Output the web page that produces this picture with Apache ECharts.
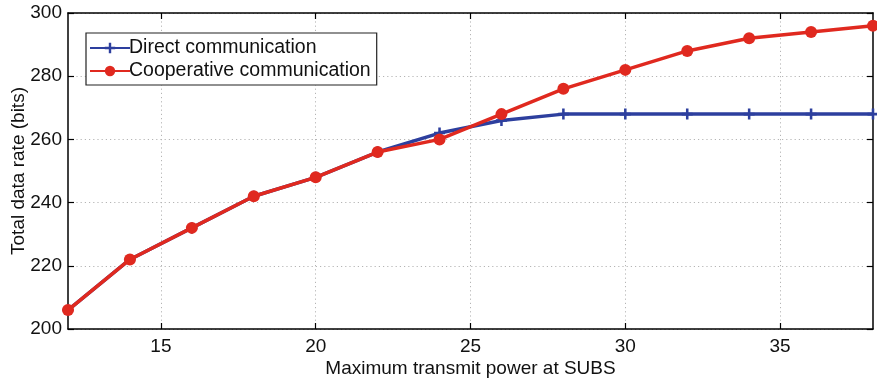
<!DOCTYPE html>
<html><head><meta charset="utf-8">
<script src="https://cdn.jsdelivr.net/npm/echarts@6/dist/echarts.min.js"></script>
<style>html,body{margin:0;padding:0;background:#fff}#c{width:877px;height:382px}</style>
</head><body><div id="c"></div>
<script>
const xValues = [12,14,16,18,20,22,24,26,28,30,32,34,36,38];
const directRate = [206,222,232,242,248,256,262,266,268,268,268,268,268,268];
const coopRate = [206,222,232,242,248,256,260,268,276,282,288,292,294,296];
const xTicks = [15,20,25,30,35];
const yTicks = [200,220,240,260,280,300];

const font = '"Liberation Sans", Arial, sans-serif';
const plusPath = 'path://M4,0h2.4v4h4v2.4h-4v4h-2.4v-4h-4v-2.4h4z';
const chart = echarts.init(document.getElementById('c'), null, {renderer:'canvas'});
const axisCommon = {
  axisLine:{show:true,lineStyle:{color:'#000',width:1.5}},
  axisTick:{show:true,inside:true,length:6,lineStyle:{color:'#000',width:1.2}},
};
const gridLine = {show:true,lineStyle:{color:'#b5b5b5',type:[1.2,3],width:1}};
chart.setOption({
  animation:false,
  grid:{left:68,right:4,top:13,bottom:53,outerBoundsMode:'none',containLabel:false},
  legend:{
    left:86, top:33, orient:'vertical',
    data:['Direct communication','Cooperative communication'],
    backgroundColor:'#fff', borderColor:'#222', borderWidth:1.2,
    padding:[5,6,4,3], itemGap:3, itemWidth:40, itemHeight:13,
    textStyle:{fontFamily:font,fontSize:19.5,color:'#111',padding:[0,0,0,-6]}
  },
  xAxis:[{
    type:'value', min:12, max:38, interval:1,
    name:'Maximum transmit power at SUBS', nameLocation:'middle', nameGap:30, nameMoveOverlap:false,
    nameTextStyle:{fontFamily:font,fontSize:19,color:'#111'},
    ...axisCommon,
    axisTick:{show:true,inside:true,length:6,lineStyle:{color:'#000',width:1.2},
      customValues:xTicks},
    axisLabel:{fontFamily:font,fontSize:19,color:'#111',margin:8,customValues:xTicks},
    splitLine:gridLine,
  },{
    type:'value', position:'top', min:12, max:38, interval:1,
    ...axisCommon,
    axisTick:{show:true,inside:true,length:6,lineStyle:{color:'#000',width:1.2},customValues:xTicks},
    axisLabel:{show:false}, splitLine:{show:false}
  }],
  yAxis:[{
    type:'value', min:200, max:300, interval:20,
    name:'Total data rate (bits)', nameLocation:'middle', nameGap:40, nameMoveOverlap:false,
    nameTextStyle:{fontFamily:font,fontSize:19,color:'#111'},
    ...axisCommon,
    axisLabel:{fontFamily:font,fontSize:19,color:'#111',margin:6},
    splitLine:gridLine,
  },{
    type:'value', position:'right', min:200, max:300, interval:20,
    ...axisCommon, axisLabel:{show:false}, splitLine:{show:false}
  }],
  series:[{
    name:'Direct communication', type:'line',
    data:xValues.map((x,i)=>[x,directRate[i]]),
    color:'#2d3f9e', lineStyle:{width:3.5,color:'#2d3f9e'},
    symbol:plusPath, symbolSize:11, showSymbol:true,
    itemStyle:{color:'#2d3f9e'}, z:2
  },{
    name:'Cooperative communication', type:'line',
    data:xValues.map((x,i)=>[x,coopRate[i]]),
    color:'#e0291f', lineStyle:{width:3.5,color:'#e0291f'},
    symbol:'circle', symbolSize:12, showSymbol:true,
    itemStyle:{color:'#e0291f'}, z:3
  }]
});
</script></body></html>
